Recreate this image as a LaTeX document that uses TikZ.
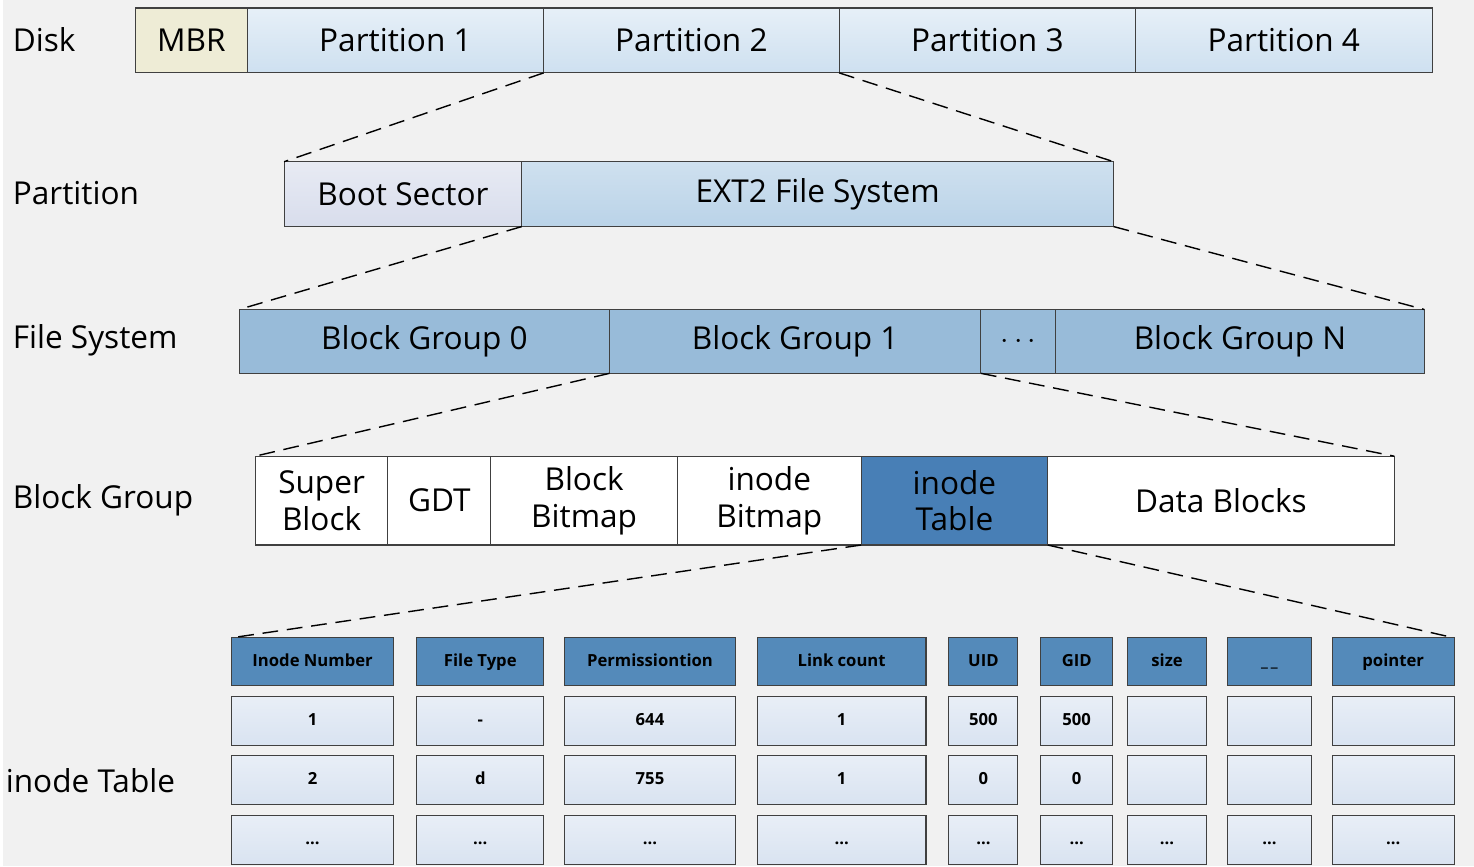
\documentclass[tikz,border=0pt]{standalone}
\usepackage{fontspec}
\setmainfont{Open Sans}
\usepackage{tikz}
\definecolor{bgc}{RGB}{241,241,241}
\definecolor{mbrc}{RGB}{238,236,214}
\definecolor{partc}{RGB}{206,224,240}
\definecolor{bootc}{RGB}{216,221,236}
\definecolor{extc}{RGB}{186,211,232}
\definecolor{grpc}{RGB}{152,187,217}
\definecolor{itc}{RGB}{72,127,182}
\definecolor{headc}{RGB}{84,138,186}
\definecolor{valc}{RGB}{217,227,241}
\newcommand{\dd}{...}
\tikzset{
  box/.style={draw=black!75, line width=0.6pt, inner sep=0pt, outer sep=0pt, align=center, font=\fontsize{18}{21}\selectfont},
  zoomline/.style={dashed, line width=0.8pt, dash pattern=on 9pt off 5pt},
  rowlabel/.style={anchor=west, font=\fontsize{18}{21}\selectfont},
  hcell/.style={fill=headc, text height=7pt, text depth=2pt, font=\bfseries\fontsize{9.5}{11}\selectfont},
  vcell/.style={top color=valc!60!white, bottom color=valc, text height=7pt, text depth=2pt, font=\bfseries\fontsize{9.5}{11}\selectfont}
}
% #1 style, #2..#5 corners in pixels, #6 text, #7 name
\newcommand{\cell}[7][]{%
  \pgfmathsetmacro{\cw}{(#4-#2)*0.02}%
  \pgfmathsetmacro{\ch}{(#5-#3)*0.02}%
  \node[box, #1, minimum width=\cw cm, minimum height=\ch cm] (#7) at ({(#2+#4)/2},{(#3+#5)/2}) {#6};}
\begin{document}
\begin{tikzpicture}[x=0.02cm, y=-0.02cm]
    % background
    \fill[bgc] (0,0) rectangle (1474,868);

    % row labels
    \node[rowlabel] (ldisk) at (4,40) {Disk};
    \node[rowlabel] (lpart) at (4,193) {Partition};
    \node[rowlabel] (lfs) at (4,341) {File System};
    \node[rowlabel] (lbg) at (4,501) {Block Group};
    \node[rowlabel] (lit) at (-3,782) {inode Table};

    % disk
    \cell[fill=mbrc]{133}{8}{245}{73}{MBR}{mbr}
    \cell[top color=partc!50!white, bottom color=partc]{245}{8}{542}{73}{Partition 1}{p1}
    \cell[top color=partc!50!white, bottom color=partc]{542}{8}{838}{73}{Partition 2}{p2}
    \cell[top color=partc!50!white, bottom color=partc]{838}{8}{1135}{73}{Partition 3}{p3}
    \cell[top color=partc!50!white, bottom color=partc]{1135}{8}{1432}{73}{Partition 4}{p4}

    % partition
    \cell[top color=bootc!60!white, bottom color=bootc]{282}{162}{520}{227}{Boot Sector}{boot}
    \cell[top color=extc!70!white, bottom color=extc]{520}{162}{1113}{227}{EXT2 File System}{ext}

    % file system
    \cell[fill=grpc]{237}{310}{608}{374}{Block Group 0}{bg0}
    \cell[fill=grpc]{608}{310}{980}{374}{Block Group 1}{bg1}
    \cell[fill=grpc]{980}{310}{1055}{374}{$\cdots$}{bgdots}
    \cell[fill=grpc]{1055}{310}{1424}{374}{Block Group N}{bgn}

    % block group
    \cell[fill=white]{253}{457}{386}{546}{Super\\Block}{sb}
    \cell[fill=white]{386}{457}{489}{546}{GDT}{gdt}
    \cell[fill=white]{489}{457}{676}{546}{Block\\Bitmap}{bbm}
    \cell[fill=white]{676}{457}{860}{546}{inode\\Bitmap}{ibm}
    \cell[fill=itc]{860}{457}{1047}{546}{inode\\Table}{itab}
    \cell[fill=white]{1047}{457}{1394}{546}{Data Blocks}{data}

    % inode table
    \foreach \x/\xx/\h/\a/\b/\c [count=\i] in {229/392/Inode Number/1/2/\dd,
        415/542/File Type/-/d/\dd, 563/734/Permissiontion/644/755/\dd,
        756/925/Link count/1/1/\dd, 948/1017/UID/500/0/\dd, 1040/1112/GID/500/0/\dd,
        1127/1206/size///\dd, 1227/1311/\_\,\_///\dd, 1332/1454/pointer///\dd} {
        \cell[hcell]{\x}{639}{\xx}{687}{\h}{h\i}
        \cell[vcell]{\x}{698}{\xx}{747}{\a}{ra\i}
        \cell[vcell]{\x}{757}{\xx}{806}{\b}{rb\i}
        \cell[vcell]{\x}{817}{\xx}{866}{\c}{rc\i}
    }

    % zoom lines
    \draw[zoomline] (p2.south west) -- (boot.north west);
    \draw[zoomline] (p2.south east) -- (ext.north east);
    \draw[zoomline] (ext.south west) -- (bg0.north west);
    \draw[zoomline] (ext.south east) -- (bgn.north east);
    \draw[zoomline] (bg1.south west) -- (sb.north west);
    \draw[zoomline] (bg1.south east) -- (data.north east);
    \draw[zoomline] (itab.south west) -- (h1.north west);
    \draw[zoomline] (itab.south east) -- (h9.north east);
\end{tikzpicture}
\end{document}
